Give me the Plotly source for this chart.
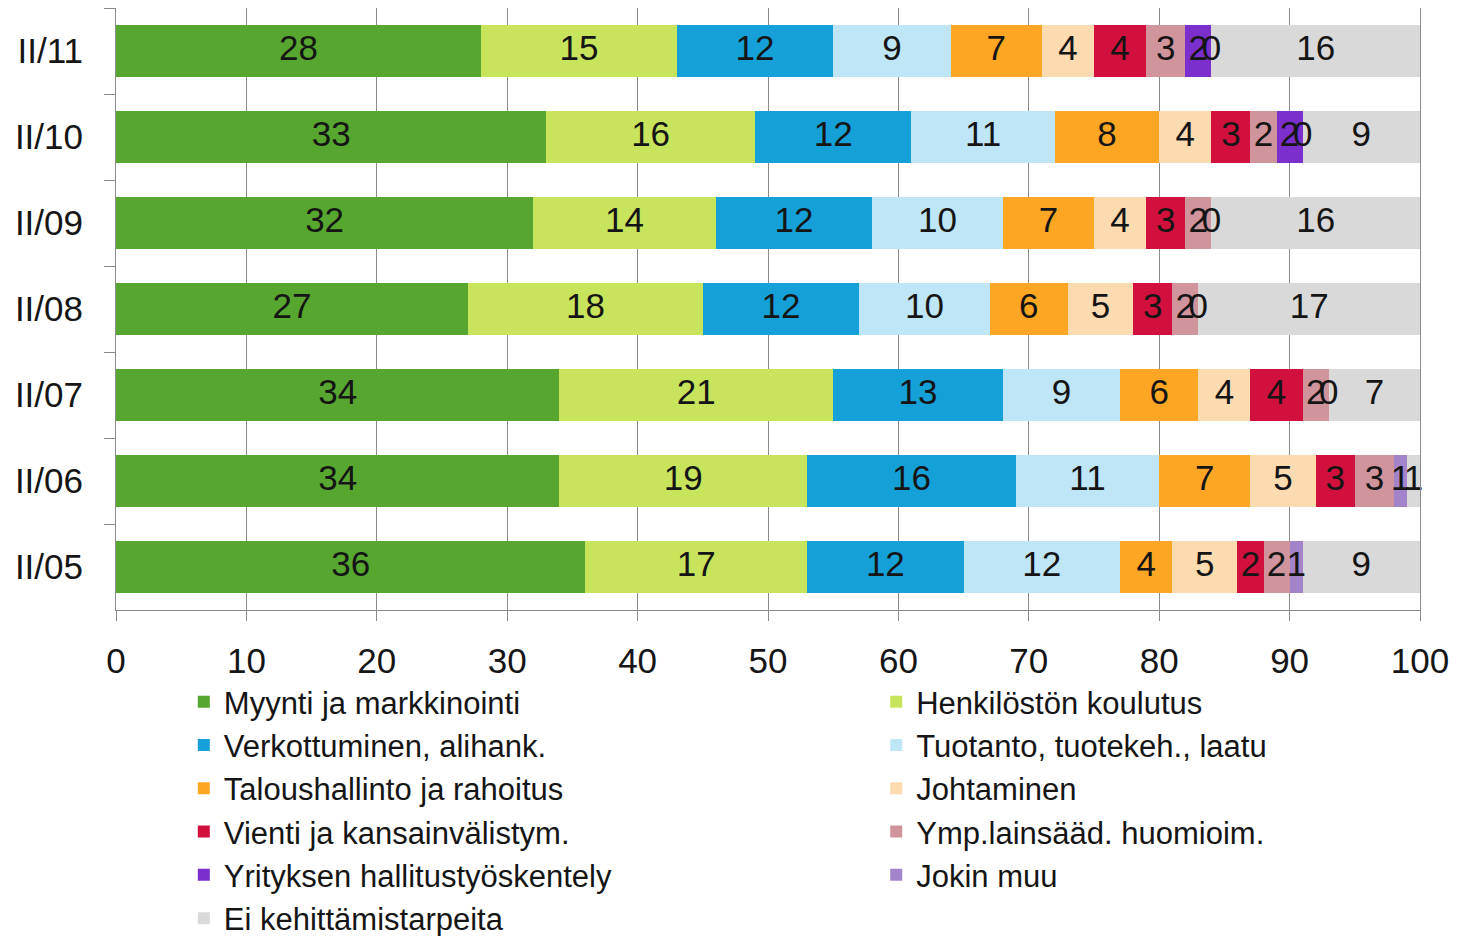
import plotly.graph_objects as go

categories = ["II/11", "II/10", "II/09", "II/08", "II/07", "II/06", "II/05"]

series_names = [
    "Myynti ja markkinointi",
    "Henkilöstön koulutus",
    "Verkottuminen, alihank.",
    "Tuotanto, tuotekeh., laatu",
    "Taloushallinto ja rahoitus",
    "Johtaminen",
    "Vienti ja kansainvälistym.",
    "Ymp.lainsääd. huomioim.",
    "Yrityksen hallitustyöskentely",
    "Jokin muu",
    "Ei kehittämistarpeita",
]

# values per series, in category order (II/11 ... II/05)
myynti      = [28, 33, 32, 27, 34, 34, 36]
henkilosto  = [15, 16, 14, 18, 21, 19, 17]
verkotus    = [12, 12, 12, 12, 13, 16, 12]
tuotanto    = [9, 11, 10, 10, 9, 11, 12]
talous      = [7, 8, 7, 6, 6, 7, 4]
johtaminen  = [4, 4, 4, 5, 4, 5, 5]
vienti      = [4, 3, 3, 3, 4, 3, 2]
ymparisto   = [3, 2, 2, 2, 2, 3, 2]
hallitus    = [2, 2, None, None, None, None, None]
jokin_muu   = [0, 0, 0, 0, 0, 1, 1]
ei_tarvetta = [16, 9, 16, 17, 7, 1, 9]

series_values = [myynti, henkilosto, verkotus, tuotanto, talous, johtaminen,
                 vienti, ymparisto, hallitus, jokin_muu, ei_tarvetta]

colors = ["#56a62f", "#c8e45c", "#15a0d8", "#bfe6f6", "#fda624", "#fddbb0",
          "#d1103d", "#d0949d", "#7b2fcd", "#a383c9", "#d9d9d9"]

FONT = "Liberation Sans, Arial, sans-serif"
FS = 35
LEG_FS = 31

fig = go.Figure()
for k, (name, vals, col) in enumerate(zip(series_names, series_values, colors)):
    fig.add_trace(go.Bar(
        y=categories, x=[v if v is not None else 0 for v in vals],
        name=name, orientation="h", marker=dict(color=col, line=dict(width=0)),
        width=0.6, hoverinfo="skip",
        legend="legend" if k % 2 == 0 else "legend2",
    ))

# data labels placed at segment centres (computed from the data)
lx, ly, lt = [], [], []
cum = [0.0] * len(categories)
for vals in series_values:
    for i, v in enumerate(vals):
        if v is None:
            continue
        lx.append(cum[i] + v / 2)
        ly.append(categories[i])
        lt.append(str(v))
        cum[i] += v
fig.add_trace(go.Scatter(
    x=lx, y=ly, text=lt, mode="text", showlegend=False, hoverinfo="skip",
    textfont=dict(family=FONT, size=FS, color="#151515"),
    cliponaxis=False,
))

leg_common = dict(
    orientation="v", xanchor="left", yanchor="top",
    font=dict(family=FONT, size=LEG_FS, color="#151515"),
    traceorder="normal", itemclick=False, itemdoubleclick=False,
    bgcolor="rgba(0,0,0,0)",
)

fig.update_layout(
    barmode="stack",
    width=1464, height=936,
    margin=dict(l=108, r=52, t=0, b=334, autoexpand=False),
    paper_bgcolor="white", plot_bgcolor="white",
    font=dict(family=FONT, size=FS, color="#151515"),
    showlegend=True,
    legend=dict(x=0.052, y=-0.108, **leg_common),
    legend2=dict(x=0.583, y=-0.108, **leg_common),
)
fig.update_xaxes(
    range=[0, 100], tickvals=list(range(0, 101, 10)),
    showgrid=True, gridcolor="#8a8a8a", gridwidth=1,
    showline=True, linecolor="#8a8a8a", linewidth=1, mirror=True,
    ticks="outside", ticklen=10, tickcolor="#8a8a8a",
    tickfont=dict(family=FONT, size=FS), zeroline=False,
    ticklabelstandoff=10,
)
fig.update_yaxes(
    categoryorder="array", categoryarray=categories, autorange="reversed",
    showline=True, linecolor="#8a8a8a", linewidth=1, mirror=True,
    ticks="outside", ticklen=11, tickcolor="#8a8a8a", tickson="boundaries",
    tickfont=dict(family=FONT, size=FS), showgrid=False,
    ticklabelstandoff=25,
)

fig.write_html("out.html")
